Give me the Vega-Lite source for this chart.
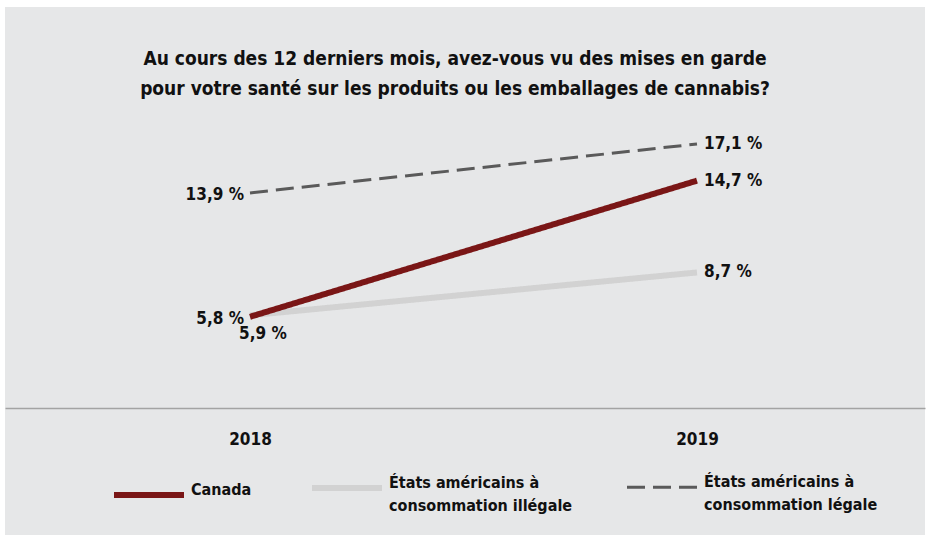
{
  "$schema": "https://vega.github.io/schema/vega-lite/v6.json",
  "autosize": {"type": "none"},
  "width": 920,
  "height": 528,
  "padding": {"left": 5, "top": 7, "right": 7, "bottom": 10},
  "background": "white",
  "title": {
    "text": ["Au cours des 12 derniers mois, avez-vous vu des mises en garde", "pour votre santé sur les produits ou les emballages de cannabis?"],
    "orient": "top",
    "anchor": "middle",
    "frame": "group",
    "offset": -92,
    "dx": -10,
    "font": "DejaVu Sans Condensed, sans-serif",
    "fontSize": 19,
    "fontWeight": "bold",
    "lineHeight": 30,
    "color": "#111111"
  },
  "config": {
    "view": {"fill": "#e6e7e8", "stroke": null},
    "font": "DejaVu Sans Condensed, sans-serif",
    "style": {"guide-label": {"lineHeight": 23}}
  },
  "data": {
    "values": [
      {"annee": 2018, "serie": "États américains à consommation illégale", "valeur": 5.9, "etiquette": "5,9 %"},
      {"annee": 2019, "serie": "États américains à consommation illégale", "valeur": 8.7, "etiquette": "8,7 %"},
      {"annee": 2018, "serie": "Canada", "valeur": 5.8, "etiquette": "5,8 %"},
      {"annee": 2019, "serie": "Canada", "valeur": 14.7, "etiquette": "14,7 %"},
      {"annee": 2018, "serie": "États américains à consommation légale", "valeur": 13.9, "etiquette": "13,9 %"},
      {"annee": 2019, "serie": "États américains à consommation légale", "valeur": 17.1, "etiquette": "17,1 %"}
    ]
  },
  "encoding": {
    "x": {
      "field": "annee",
      "type": "quantitative",
      "scale": {"domain": [2017.4519, 2019.5101], "nice": false, "zero": false},
      "axis": {
        "values": [2018, 2019],
        "format": "d",
        "title": null,
        "orient": "bottom",
        "offset": -127,
        "grid": false,
        "ticks": false,
        "domainColor": "#a3a3a3",
        "domainWidth": 1.5,
        "labelPadding": 23,
        "labelFontSize": 17,
        "labelFontWeight": "bold",
        "labelColor": "#111111",
        "labelFont": "DejaVu Sans Condensed, sans-serif"
      }
    },
    "y": {
      "field": "valeur",
      "type": "quantitative",
      "scale": {"domain": [-8.46, 26.05], "nice": false, "zero": false},
      "axis": null
    }
  },
  "layer": [
    {
      "mark": {"type": "line", "strokeCap": "butt"},
      "encoding": {
        "color": {
          "field": "serie",
          "type": "nominal",
          "scale": {
            "domain": ["Canada", "États américains à consommation illégale", "États américains à consommation légale"],
            "range": ["#7a1616", "#d2d2d2", "#5a5a5a"]
          },
          "legend": {
            "orient": "none",
            "legendX": 106,
            "legendY": 443,
            "direction": "horizontal",
            "columns": 3,
            "columnPadding": 48,
            "title": null,
            "symbolType": "stroke",
            "symbolSize": 4900,
            "labelExpr": "split(replace(datum.label, 'à ', 'à|'), '|')",
            "labelFontSize": 16,
            "labelFontWeight": "bold",
            "labelColor": "#111111",
            "labelBaseline": "alphabetic",
            "labelLimit": 400,
            "labelOffset": 4,
            "labelFont": "DejaVu Sans Condensed, sans-serif"
          }
        },
        "strokeDash": {
          "field": "serie",
          "type": "nominal",
          "scale": {
            "domain": ["Canada", "États américains à consommation illégale", "États américains à consommation légale"],
            "range": [[1, 0], [1, 0], [18, 8]]
          },
          "legend": {
            "orient": "none",
            "legendX": 106,
            "legendY": 443,
            "direction": "horizontal",
            "columns": 3,
            "columnPadding": 48,
            "title": null,
            "symbolType": "stroke",
            "symbolSize": 4900,
            "labelExpr": "split(replace(datum.label, 'à ', 'à|'), '|')",
            "labelFontSize": 16,
            "labelFontWeight": "bold",
            "labelColor": "#111111",
            "labelBaseline": "alphabetic",
            "labelLimit": 400,
            "labelOffset": 4,
            "labelFont": "DejaVu Sans Condensed, sans-serif"
          }
        },
        "strokeWidth": {
          "field": "serie",
          "type": "nominal",
          "scale": {
            "type": "ordinal",
            "domain": ["Canada", "États américains à consommation illégale", "États américains à consommation légale"],
            "range": [6, 6, 3]
          },
          "legend": {
            "orient": "none",
            "legendX": 106,
            "legendY": 443,
            "direction": "horizontal",
            "columns": 3,
            "columnPadding": 48,
            "title": null,
            "symbolType": "stroke",
            "symbolSize": 4900,
            "labelExpr": "split(replace(datum.label, 'à ', 'à|'), '|')",
            "labelFontSize": 16,
            "labelFontWeight": "bold",
            "labelColor": "#111111",
            "labelBaseline": "alphabetic",
            "labelLimit": 400,
            "labelOffset": 4,
            "labelFont": "DejaVu Sans Condensed, sans-serif"
          }
        },
        "order": {"field": "annee"}
      }
    },
    {
      "transform": [{"filter": "datum.annee == 2019"}],
      "mark": {"type": "text", "align": "left", "baseline": "middle", "dx": 7, "fontSize": 17, "fontWeight": "bold", "color": "#111111"},
      "encoding": {"text": {"field": "etiquette"}}
    },
    {
      "transform": [{"filter": "datum.annee == 2018 && datum.serie != 'États américains à consommation illégale'"}],
      "mark": {"type": "text", "align": "right", "baseline": "middle", "dx": -6, "dy": 2, "fontSize": 17, "fontWeight": "bold", "color": "#111111"},
      "encoding": {"text": {"field": "etiquette"}}
    },
    {
      "transform": [{"filter": "datum.annee == 2018 && datum.serie == 'États américains à consommation illégale'"}],
      "mark": {"type": "text", "align": "center", "baseline": "middle", "dx": 13, "dy": 19, "fontSize": 17, "fontWeight": "bold", "color": "#111111"},
      "encoding": {"text": {"field": "etiquette"}}
    }
  ]
}
